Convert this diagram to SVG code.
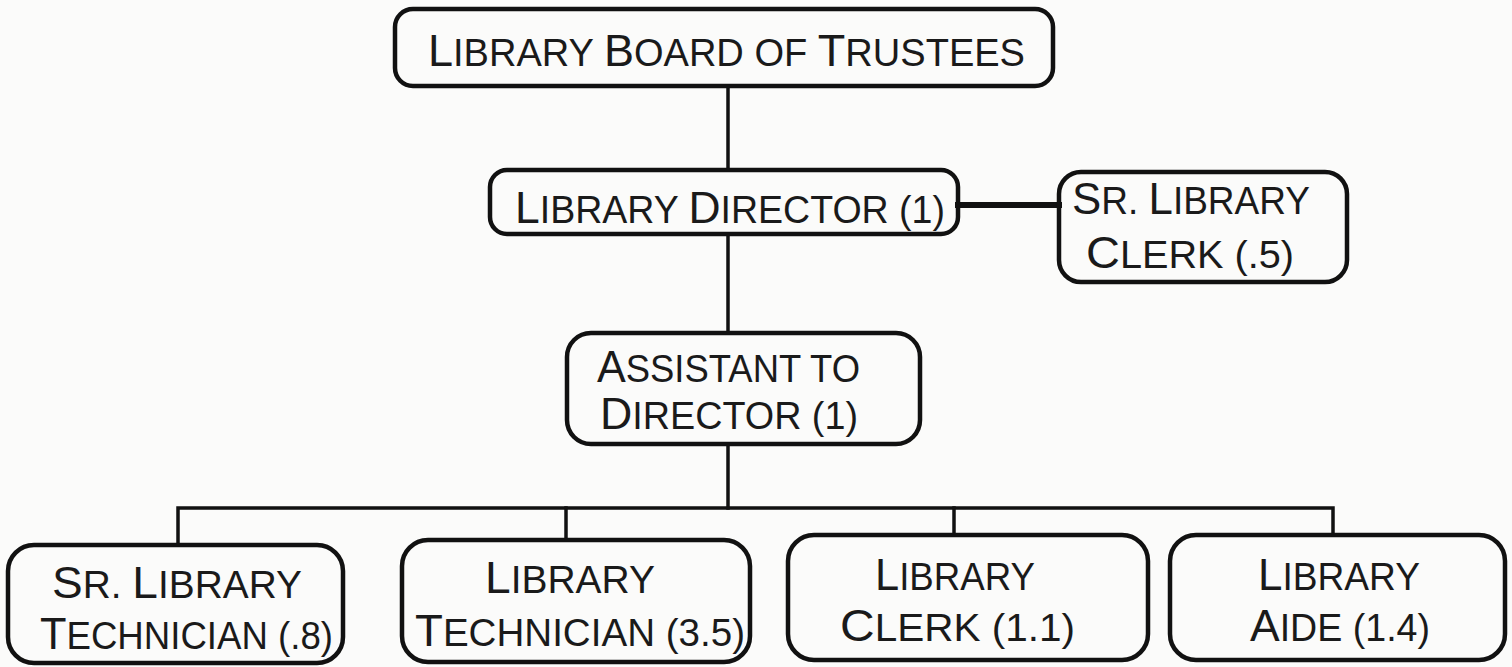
<svg xmlns="http://www.w3.org/2000/svg" width="1512" height="667" viewBox="0 0 1512 667">
<style>
.box{fill:none;stroke:#111;stroke-width:4.5}
.con{fill:none;stroke:#111;stroke-width:3.5;stroke-linecap:square}
text{font-family:"Liberation Sans",Arial,sans-serif;fill:#1a1a1a;font-size:38px}
.c{font-size:45px}
</style>
<rect width="1512" height="667" fill="#fbfbfa"/>
<g id="connectors">
<path class="con" d="M728 86V170"/>
<path class="con" d="M958 205H1059" style="stroke-width:6"/>
<path class="con" d="M728 234V333"/>
<path class="con" d="M728 444V508"/>
<path class="con" d="M178 545V508H1333V535"/>
<path class="con" d="M566 508V540"/>
<path class="con" d="M954 508V535"/>
</g>
<g id="trustees">
<rect class="box" x="395" y="9" width="658" height="77" rx="18"/>
<text x="428" y="66" textLength="597" lengthAdjust="spacingAndGlyphs"><tspan class="c">L</tspan>IBRARY <tspan class="c">B</tspan>OARD OF <tspan class="c">T</tspan>RUSTEES</text>
</g>
<g id="director">
<rect class="box" x="490" y="170" width="468" height="64" rx="17"/>
<text x="515" y="223" textLength="430" lengthAdjust="spacingAndGlyphs"><tspan class="c">L</tspan>IBRARY <tspan class="c">D</tspan>IRECTOR (1)</text>
</g>
<g id="sr-clerk">
<rect class="box" x="1059" y="172" width="288" height="110" rx="22"/>
<text x="1072" y="214" textLength="238" lengthAdjust="spacingAndGlyphs"><tspan class="c">S</tspan>R. <tspan class="c">L</tspan>IBRARY</text>
<text x="1086" y="268" textLength="208" lengthAdjust="spacingAndGlyphs"><tspan class="c">C</tspan>LERK (.5)</text>
</g>
<g id="assistant">
<rect class="box" x="567" y="333" width="353" height="111" rx="24"/>
<text x="597" y="382" textLength="263" lengthAdjust="spacingAndGlyphs"><tspan class="c">A</tspan>SSISTANT TO</text>
<text x="600" y="429" textLength="258" lengthAdjust="spacingAndGlyphs"><tspan class="c">D</tspan>IRECTOR (1)</text>
</g>
<g id="sr-technician">
<rect class="box" x="8" y="545" width="335" height="118" rx="26"/>
<text x="52" y="598" textLength="250" lengthAdjust="spacingAndGlyphs"><tspan class="c">S</tspan>R. <tspan class="c">L</tspan>IBRARY</text>
<text x="40" y="649" textLength="293" lengthAdjust="spacingAndGlyphs"><tspan class="c">T</tspan>ECHNICIAN (.8)</text>
</g>
<g id="technician">
<rect class="box" x="402" y="540" width="348" height="122" rx="26"/>
<text x="485" y="593" textLength="170" lengthAdjust="spacingAndGlyphs"><tspan class="c">L</tspan>IBRARY</text>
<text x="415" y="646" textLength="330" lengthAdjust="spacingAndGlyphs"><tspan class="c">T</tspan>ECHNICIAN (3.5)</text>
</g>
<g id="clerk">
<rect class="box" x="788" y="535" width="360" height="125" rx="26"/>
<text x="875" y="590" textLength="160" lengthAdjust="spacingAndGlyphs"><tspan class="c">L</tspan>IBRARY</text>
<text x="840" y="641" textLength="235" lengthAdjust="spacingAndGlyphs"><tspan class="c">C</tspan>LERK (1.1)</text>
</g>
<g id="aide">
<rect class="box" x="1170" y="535" width="335" height="125" rx="26"/>
<text x="1258" y="590" textLength="162" lengthAdjust="spacingAndGlyphs"><tspan class="c">L</tspan>IBRARY</text>
<text x="1250" y="641" textLength="180" lengthAdjust="spacingAndGlyphs"><tspan class="c">A</tspan>IDE (1.4)</text>
</g>
</svg>
